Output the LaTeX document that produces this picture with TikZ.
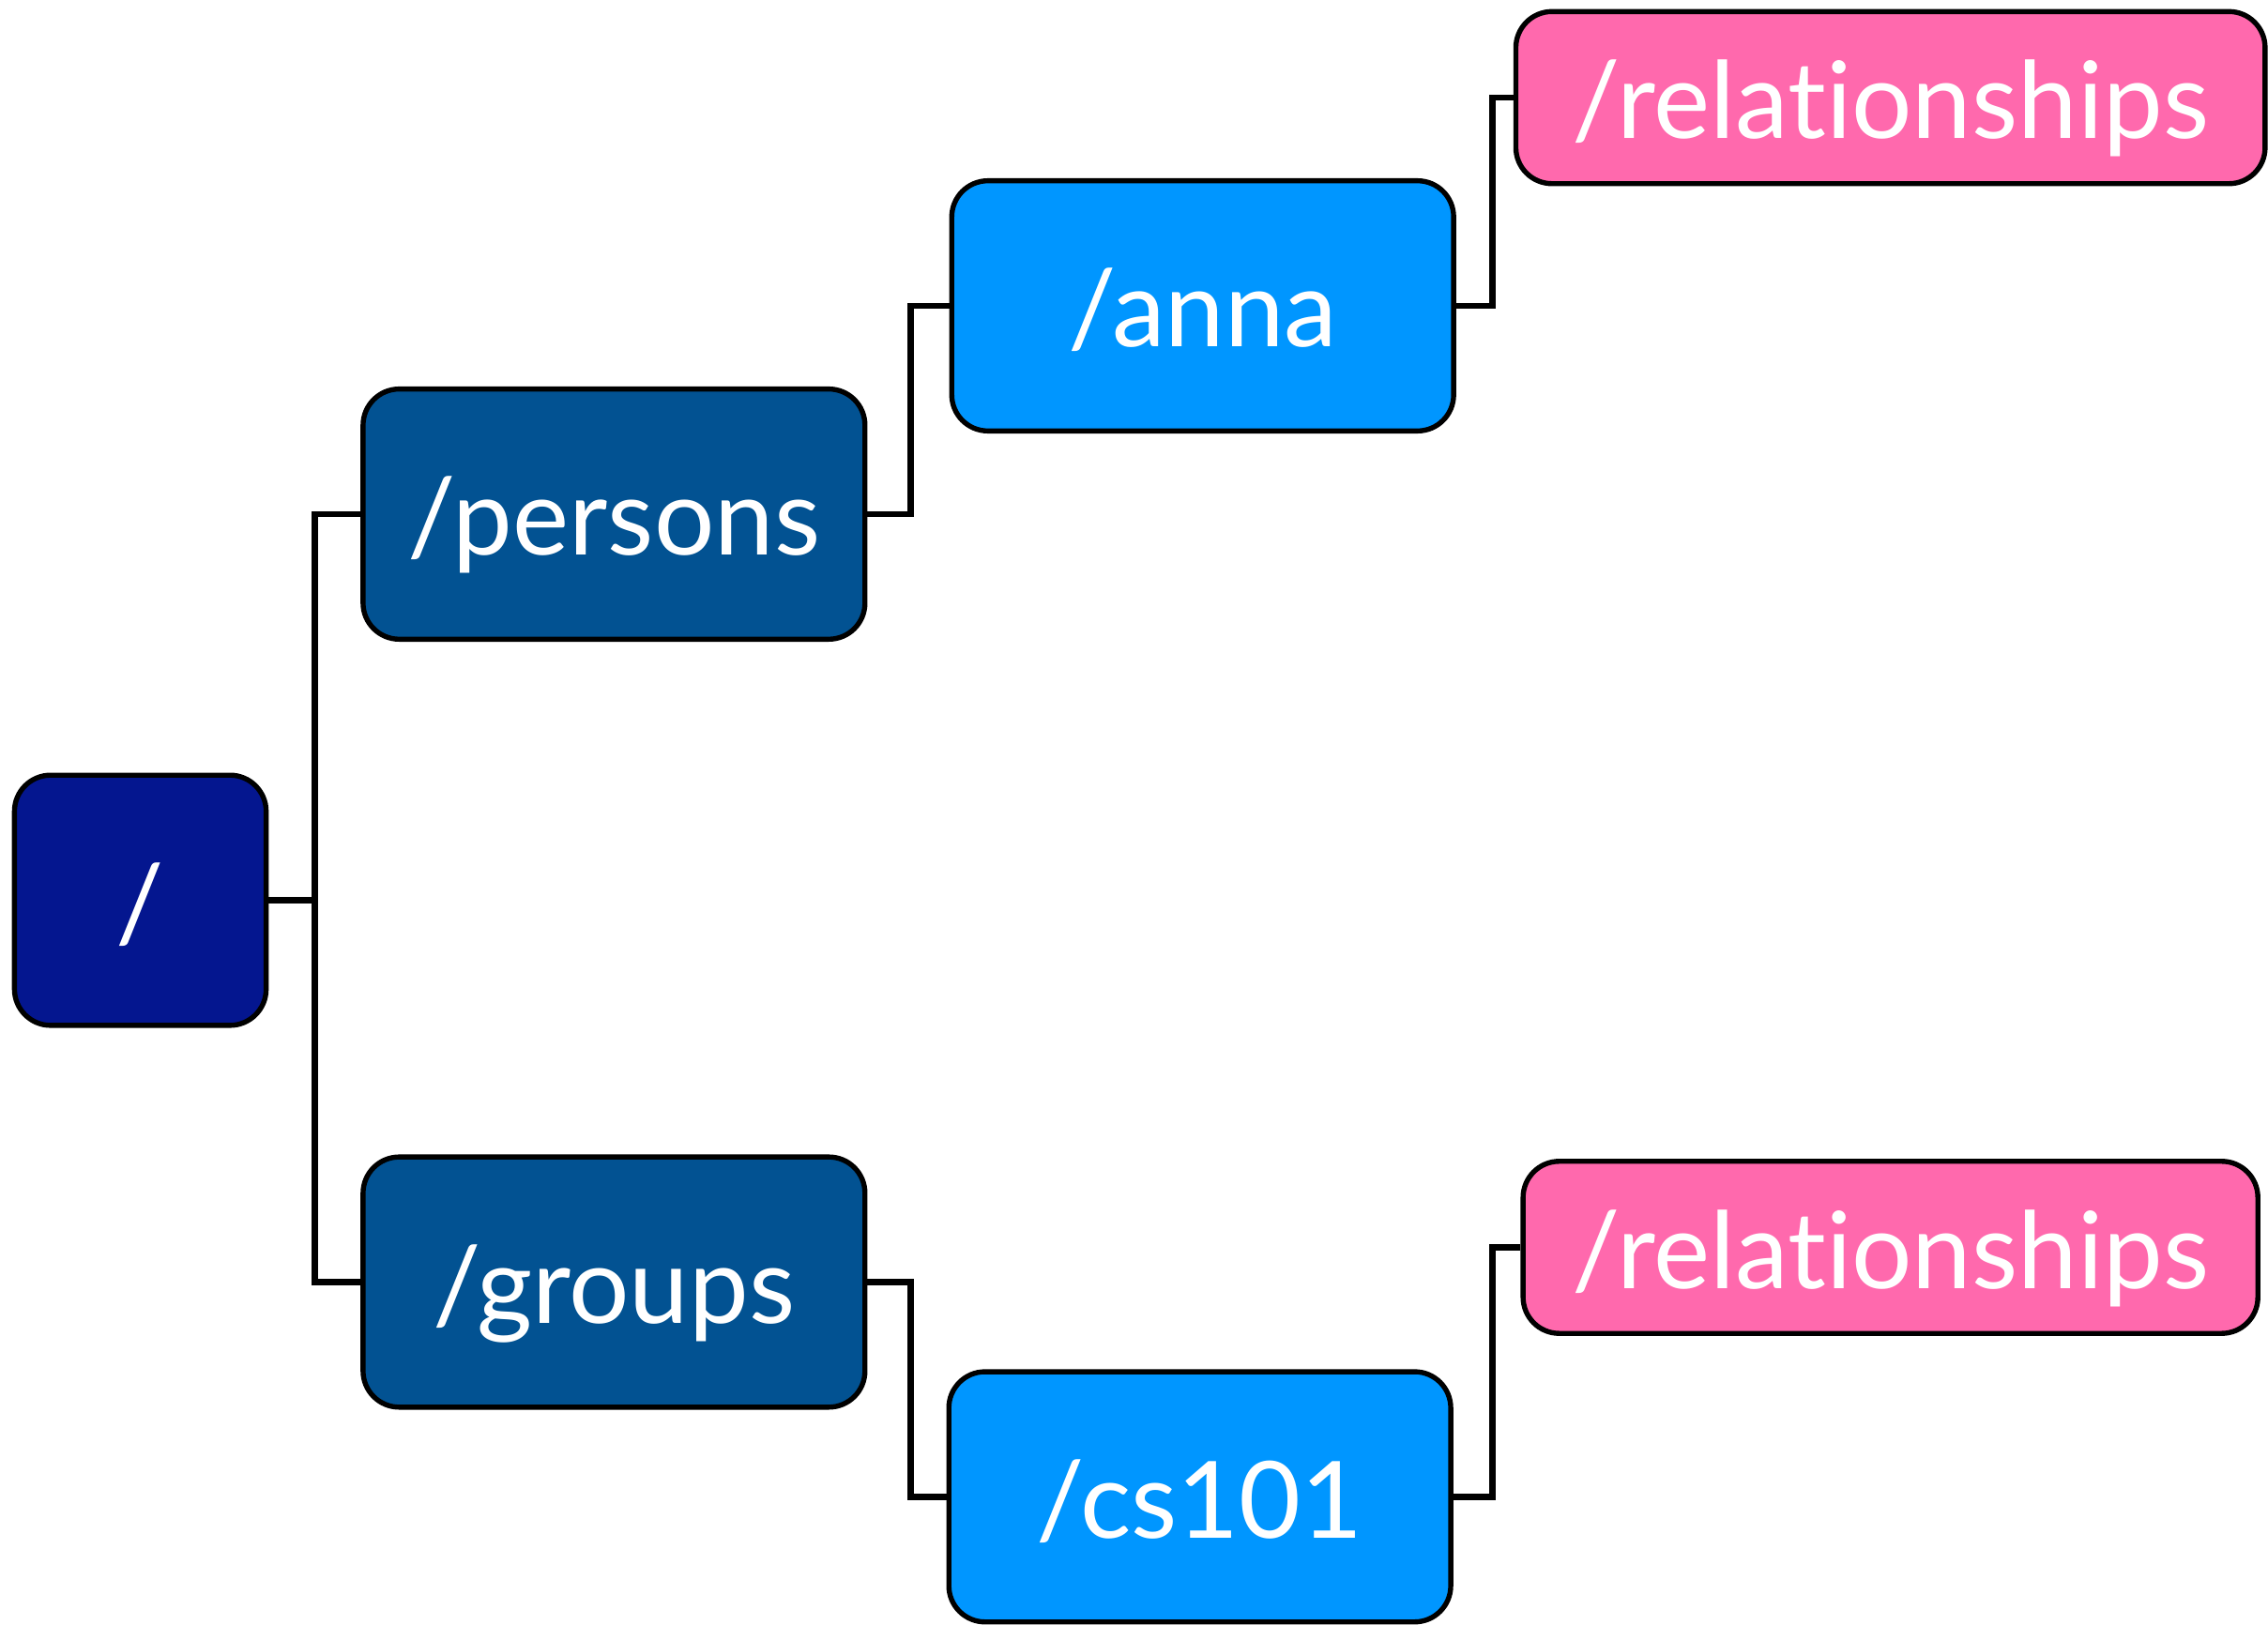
\documentclass[tikz,border=0pt]{standalone}
\usepackage{fontspec}
\setmainfont{Lato}[Ligatures=NoCommon]
\usepackage{tikz}

\definecolor{rootblue}{HTML}{04168F}
\definecolor{dirblue}{HTML}{025292}
\definecolor{leafblue}{HTML}{0096FF}
\definecolor{relpink}{HTML}{FF69AD}

\begin{document}
\begin{tikzpicture}[x=0.1mm, y=-0.1mm,
	box/.style={shape=rectangle, rounded corners=2.5mm, draw=black, line width=0.35mm,
		text=white, font=\fontsize{21}{25}\selectfont, inner sep=0pt,
		text height=5.7mm, text depth=0pt},
	bigbox/.style={box, minimum width=34.7mm, minimum height=17.3mm},
	relbox/.style={box, minimum height=11.9mm},
	link/.style={line width=0.45mm}]
	
	\useasboundingbox (0,0) rectangle (1568,1123);
	
	\node[box, fill=rootblue, minimum width=17.4mm, minimum height=17.3mm] (root) at (97, 622.5) {/};
	\node[bigbox, fill=dirblue]  (persons) at (424.5, 355.5) {/persons};
	\node[bigbox, fill=dirblue]  (groups)  at (424.5, 886.5) {/groups};
	\node[bigbox, fill=leafblue] (anna)    at (831.5, 211.5) {/anna};
	\node[bigbox, fill=leafblue] (cs)      at (829.5, 1035)  {/cs101};
	\node[relbox, fill=relpink, minimum width=51.8mm] (relanna) at (1307, 67.5)  {/relationships};
	\node[relbox, fill=relpink, minimum width=50.8mm] (relcs)   at (1307, 862.5) {/relationships};
	
	\draw[link] (root.east) -- ++(32,0) |- (persons.west);
	\draw[link] (root.east) -- ++(32,0) |- (groups.west);
	\draw[link] (persons.east) -- ++(30,0) |- (anna.west);
	\draw[link] (groups.east) -- ++(30,0) |- (cs.west);
	\draw[link] (anna.east) -- ++(25,0) |- (relanna.west);
	\draw[link] (cs.east) -- ++(27,0) |- (relcs.west);

\end{tikzpicture}
\end{document}
